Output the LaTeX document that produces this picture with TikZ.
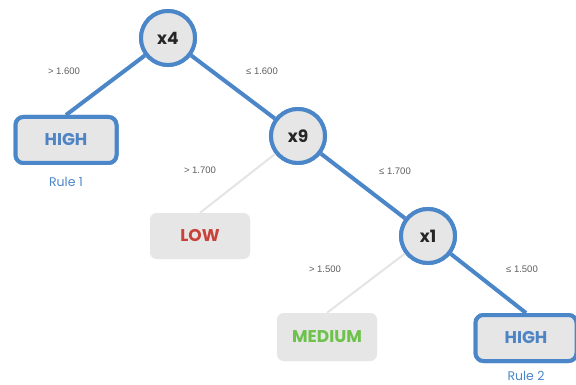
\documentclass[tikz,border=0pt]{standalone}
\usepackage{fontspec}
\setmainfont{Liberation Sans}
\newfontfamily\popfont{Poppins}
\begin{document}
\definecolor{treeblue}{HTML}{4A86C8}
\definecolor{nodegray}{HTML}{E6E6E6}
\definecolor{edgegray}{HTML}{E4E4E4}
\definecolor{lowred}{HTML}{C8413A}
\definecolor{medgreen}{HTML}{6CC24A}
\definecolor{highblue}{HTML}{4F84C4}
\definecolor{labgray}{HTML}{5E5E5E}
\begin{tikzpicture}[x=1pt,y=-1pt,
  splitnode/.style={circle,draw=treeblue,line width=4pt,fill=nodegray,minimum size=54pt,inner sep=0pt,font=\popfont\bfseries\fontsize{17}{17}\selectfont,text=black!85},
  leafblue/.style={rectangle,rounded corners=8pt,draw=treeblue,line width=4pt,fill=nodegray,minimum width=101pt,minimum height=46pt,inner sep=0pt,font=\popfont\bfseries\fontsize{17}{17}\selectfont,text=highblue},
  leafgray/.style={rectangle,rounded corners=7pt,fill=nodegray,minimum width=100pt,minimum height=46pt,inner sep=0pt,font=\popfont\bfseries\fontsize{17}{17}\selectfont},
  blueedge/.style={draw=treeblue,line width=4pt},
  grayedge/.style={draw=edgegray,line width=2pt},
  condlabel/.style={font=\fontsize{9.5}{9.5}\selectfont,text=labgray,inner sep=0pt},
  rulelabel/.style={font=\popfont\fontsize{12.5}{12.5}\selectfont,text=treeblue,inner sep=0pt}]
\useasboundingbox (0,0) rectangle (576,385);
\node[splitnode] (x4) at (168,38) {x4};
\node[splitnode] (x9) at (298,136) {x9};
\node[splitnode] (x1) at (428,236) {x1};
\node[leafblue] (high1) at (66,140) {HIGH};
\node[leafblue] (high2) at (526,338) {HIGH};
\node[leafgray,text=lowred] (low) at (200,236) {LOW};
\node[leafgray,text=medgreen,minimum height=48pt] (medium) at (327,337) {MEDIUM};
\node[rulelabel] (rule1) at (66,182) {Rule 1};
\node[rulelabel] (rule2) at (526,376) {Rule 2};
\node[condlabel] (c1) at (64,71) {> 1.600};
\node[condlabel] (c2) at (262,71) {≤ 1.600};
\node[condlabel] (c3) at (200,170) {> 1.700};
\node[condlabel] (c4) at (395,171) {≤ 1.700};
\node[condlabel] (c5) at (325,269) {> 1.500};
\node[condlabel] (c6) at (522,269) {≤ 1.500};
% edges, then the nodes are drawn again on top of them
\path[blueedge] (x4) -- (high1.north);
\path[blueedge] (x4) -- (x9);
\path[grayedge] (x9) -- (low.north);
\path[blueedge] (x9) -- (x1);
\path[grayedge] (x1) -- (medium.north);
\path[blueedge] (x1) -- (high2.north);
\node[splitnode] at (x4) {x4};
\node[splitnode] at (x9) {x9};
\node[splitnode] at (x1) {x1};
\node[leafblue] at (high1) {HIGH};
\node[leafblue] at (high2) {HIGH};
\node[leafgray,text=lowred] at (low) {LOW};
\node[leafgray,text=medgreen,minimum height=48pt] at (medium) {MEDIUM};
\end{tikzpicture}
\end{document}
